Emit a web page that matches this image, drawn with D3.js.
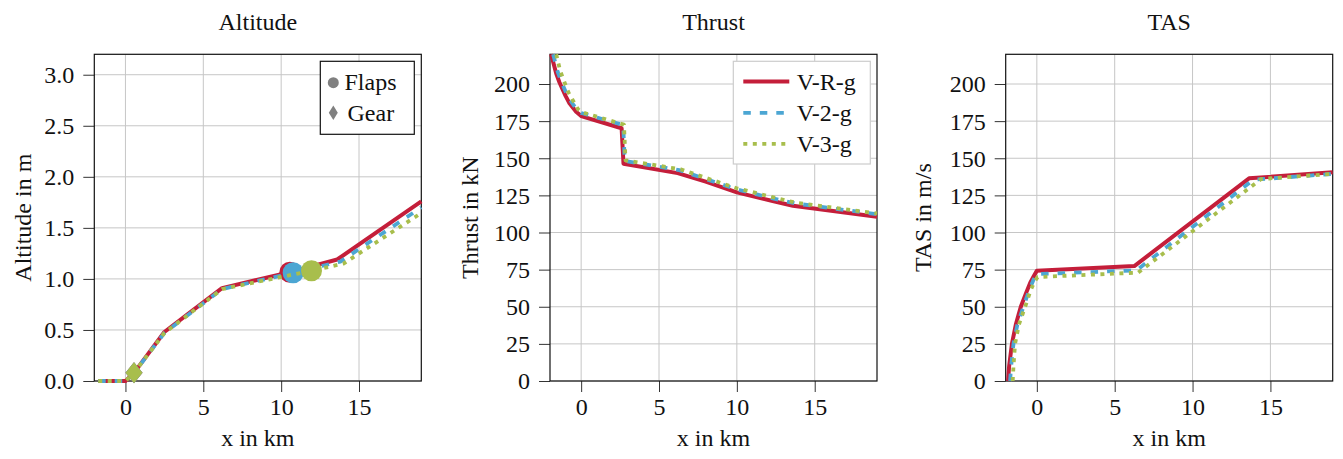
<!DOCTYPE html>
<html>
<head>
<meta charset="utf-8">
<script src="https://cdn.jsdelivr.net/npm/d3@7"></script>
<style>
  html, body { margin: 0; padding: 0; background: #fff; }
  svg { display: block; }
  text { font-family: "Liberation Serif", "DejaVu Serif", serif; fill: #111; }
</style>
</head>
<body>
<svg id="chart" width="1343" height="459"></svg>
<script>
// ---------------- data ----------------
const seriesNames = ["V-R-g", "V-2-g", "V-3-g"];
const xTicks = [0, 5, 10, 15];
const altTicks = [0, 0.5, 1.0, 1.5, 2.0, 2.5, 3.0];
const kTicks = [0, 25, 50, 75, 100, 125, 150, 175, 200];
const titles = ["Altitude", "Thrust", "TAS"];
const yLabels = ["Altitude in m", "Thrust in kN", "TAS in m/s"];
const xLabel = "x in km";
const markerNames = ["Flaps", "Gear"];

// Altitude (x in km, altitude)
const altXR = [-1.75, 0, 0.55, 2.5, 4.3, 6.2, 10.56, 13.6, 19];
const altYR = [0, 0, 0.08, 0.48, 0.69, 0.91, 1.065, 1.19, 1.76];
const altX2 = [-1.75, 0, 0.55, 2.5, 4.3, 6.2, 10.77, 13.8, 19];
const altY2 = [0, 0, 0.08, 0.47, 0.68, 0.90, 1.06, 1.17, 1.70];
const altX3 = [-1.75, 0, 0.55, 2.5, 4.3, 6.2, 11.95, 14.0, 19];
const altY3 = [0, 0, 0.08, 0.47, 0.68, 0.90, 1.08, 1.15, 1.645];
// event markers: flaps x per series, gear x per series
const flapsX = [10.56, 10.77, 11.95];
const flapsY = [1.065, 1.06, 1.08];
const gearX = [0.55, 0.55, 0.55];
const gearY = [0.08, 0.08, 0.08];

// Thrust (x in km, kN)
const thrXR = [-1.93, -1.6, -1.39, -1.0, -0.75, -0.32, 0, 2.6, 2.72, 6.2, 8.0, 10.0, 12.3, 13.6, 19];
const thrYR = [220, 207, 201, 192, 187, 181.3, 178.4, 170.2, 146.3, 140, 134.2, 127, 121.2, 118, 110.6];
const thrX2 = [-1.8, -1.5, -1.25, -0.9, -0.6, -0.25, 0, 2.7, 2.8, 6.3, 8.0, 10.0, 12.3, 13.8, 19];
const thrY2 = [220, 208, 201, 192.5, 187.5, 182.5, 180.5, 172.4, 148.2, 142, 136, 129, 123, 119.5, 112.3];
const thrX3 = [-1.6, -1.35, -1.1, -0.8, -0.5, -0.2, 0.05, 2.75, 2.85, 6.4, 8.0, 10.0, 12.3, 13.8, 19];
const thrY3 = [220, 209, 202, 194, 188.5, 183, 181, 172.6, 148.6, 142.5, 136.8, 129.8, 123.8, 120, 112.8];

// TAS (x in km, m/s)
const tasXR = [-1.85, -1.78, -1.6, -1.35, -1.03, -0.7, -0.43, -0.2, 0, 6.26, 13.63, 19];
const tasYR = [0, 10, 25, 38, 50, 59, 66, 70.5, 74.3, 77.4, 136.5, 140.5];
const tasX2 = [-1.72, -1.65, -1.5, -1.25, -0.86, -0.5, -0.2, 0, 6.4, 13.9, 19];
const tasY2 = [0, 10, 25, 38, 50, 61, 68.5, 72, 74.5, 135.5, 139.5];
const tasX3 = [-1.55, -1.5, -1.4, -1.15, -0.75, -0.4, -0.15, 0.05, 6.5, 14.4, 19];
const tasY3 = [0, 10, 25, 38, 50, 61, 67, 70, 73, 136, 139.5];

// ---------------- styles ----------------
const colors = ["#C41E3A", "#4CA6D3", "#A8BE4C"];
const widths = [4, 3.8, 3.8];
const dashes = [null, "7.5,9", "4,5.5"];

const svg = d3.select("#chart");
const FS = 24;
const FONT = "Liberation Serif, DejaVu Serif, serif";

const panels = [
  { left: 94.3, yDomain: [0, 3.2], yTicks: altTicks, fmt: d3.format(".1f"),
    series: [[altXR, altYR], [altX2, altY2], [altX3, altY3]], ylabX: 23 },
  { left: 550, yDomain: [0, 220], yTicks: kTicks, fmt: d3.format("d"),
    series: [[thrXR, thrYR], [thrX2, thrY2], [thrX3, thrY3]], ylabX: 470 },
  { left: 1005.7, yDomain: [0, 220], yTicks: kTicks, fmt: d3.format("d"),
    series: [[tasXR, tasYR], [tasX2, tasY2], [tasX3, tasY3]], ylabX: 923 }
];
const plotTop = 54.3, plotBottom = 381, pw = 327;

panels.forEach((p, i) => {
  const x = d3.scaleLinear().domain([-2, 19]).range([p.left, p.left + pw]);
  const y = d3.scaleLinear().domain(p.yDomain).range([plotBottom, plotTop]);
  const g = svg.append("g");

  // grid
  g.append("g").selectAll("line").data(xTicks).join("line")
    .attr("x1", d => x(d)).attr("x2", d => x(d)).attr("y1", plotTop).attr("y2", plotBottom)
    .attr("stroke", "#c6c6c6").attr("stroke-width", 1);
  g.append("g").selectAll("line").data(p.yTicks).join("line")
    .attr("x1", p.left).attr("x2", p.left + pw).attr("y1", d => y(d)).attr("y2", d => y(d))
    .attr("stroke", "#c6c6c6").attr("stroke-width", 1);

  // axes
  const xAxis = d3.axisBottom(x).tickValues(xTicks).tickSize(11).tickPadding(6).tickFormat(d3.format("d"));
  const gx = g.append("g").attr("transform", `translate(0,${plotBottom})`).call(xAxis);
  const yAxis = d3.axisLeft(y).tickValues(p.yTicks).tickSize(11).tickPadding(9).tickFormat(p.fmt);
  const gy = g.append("g").attr("transform", `translate(${p.left},0)`).call(yAxis);
  [gx, gy].forEach(a => {
    a.attr("font-family", FONT).attr("font-size", FS);
    a.select(".domain").remove();
    a.selectAll(".tick line").attr("stroke", "#333");
    a.selectAll(".tick text").attr("fill", "#111");
  });
  gy.selectAll(".tick text").attr("dy", "0.33em");

  // frame
  g.append("rect").attr("x", p.left).attr("y", plotTop).attr("width", pw).attr("height", plotBottom - plotTop)
    .attr("fill", "none").attr("stroke", "#111").attr("stroke-width", 1.2);

  // lines + markers
  p.series.forEach((s, k) => {
    const pts = s[0].map((xv, j) => [xv, s[1][j]]);
    const line = d3.line().x(d => x(d[0])).y(d => y(d[1]));
    g.append("path").datum(pts).attr("d", line)
      .attr("fill", "none").attr("stroke", colors[k]).attr("stroke-width", widths[k])
      .attr("stroke-dasharray", dashes[k])
      .attr("stroke-linejoin", "round");
    if (i === 0) {
      g.append("circle").attr("cx", x(flapsX[k])).attr("cy", y(flapsY[k])).attr("r", 10.5)
        .attr("fill", colors[k]);
      const gxp = x(gearX[k]), gyp = y(gearY[k]);
      g.append("path").attr("d", `M${gxp},${gyp - 10.5}L${gxp + 8.5},${gyp}L${gxp},${gyp + 10.5}L${gxp - 8.5},${gyp}Z`)
        .attr("fill", colors[k]);
    }
  });

  // title & labels
  svg.append("text").attr("x", p.left + pw / 2).attr("y", 30).attr("text-anchor", "middle")
    .attr("font-family", FONT).attr("font-size", FS).text(titles[i]);
  svg.append("text").attr("x", p.left + pw / 2).attr("y", 446).attr("text-anchor", "middle")
    .attr("font-family", FONT).attr("font-size", FS).text(xLabel);
  svg.append("text").attr("transform", `translate(${p.ylabX},${(plotTop + plotBottom) / 2}) rotate(-90)`)
    .attr("text-anchor", "middle").attr("dominant-baseline", "central")
    .attr("font-family", FONT).attr("font-size", FS).text(yLabels[i]);

  // legends
  if (i === 0) {
    const lg = svg.append("g").attr("font-family", FONT).attr("font-size", FS);
    lg.append("rect").attr("x", 320.3).attr("y", 61.3).attr("width", 94).attr("height", 73)
      .attr("fill", "#fff").attr("stroke", "#111").attr("stroke-width", 1.2);
    lg.append("circle").attr("cx", 333.3).attr("cy", 82.7).attr("r", 5.5).attr("fill", "#808080");
    lg.append("path").attr("d", "M333.3,105.5L337.8,112.7L333.3,119.9L328.8,112.7Z").attr("fill", "#808080");
    lg.append("text").attr("x", 344.5).attr("y", 90).text(markerNames[0]);
    lg.append("text").attr("x", 347.5).attr("y", 120.5).text(markerNames[1]);
  }
  if (i === 1) {
    const lg = svg.append("g").attr("font-family", FONT).attr("font-size", FS);
    lg.append("rect").attr("x", 733.3).attr("y", 61.3).attr("width", 137).attr("height", 102.7)
      .attr("fill", "#fff").attr("stroke", "#cccccc").attr("stroke-width", 1.2);
    const rowY = [81.5, 112.8, 143.8];
    seriesNames.forEach((n, k) => {
      lg.append("line").attr("x1", 743.3).attr("x2", 789.3).attr("y1", rowY[k]).attr("y2", rowY[k])
        .attr("stroke", colors[k]).attr("stroke-width", widths[k]).attr("stroke-dasharray", dashes[k]);
      lg.append("text").attr("x", 796.7).attr("y", rowY[k] + 8.3).text(n);
    });
  }
});
</script>
</body>
</html>
